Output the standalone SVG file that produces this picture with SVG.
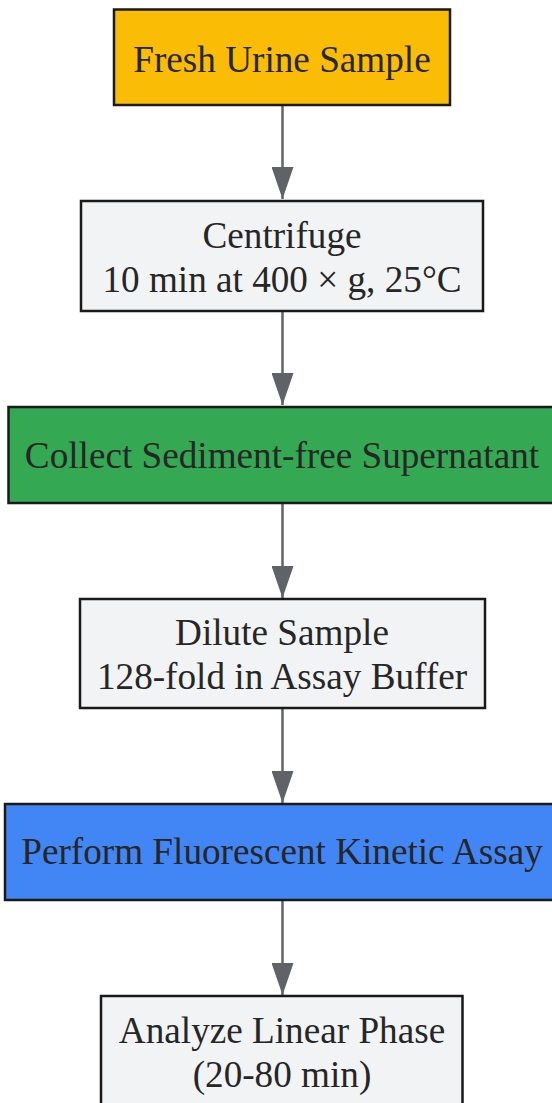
<svg xmlns="http://www.w3.org/2000/svg" width="552" height="1103" viewBox="0 0 552 1103">
<style>
.box{stroke:#1a1a1a;stroke-width:2.5}
.t{font-family:"Liberation Serif","Times New Roman",serif;font-size:37.2px;fill:#262626;text-anchor:middle}
.edge{stroke:#5f6368;stroke-width:2.5;fill:none}
</style>
<defs>
<marker id="ah" viewBox="0 0 32 22" refX="32" refY="11" markerUnits="userSpaceOnUse" markerWidth="32" markerHeight="22" orient="auto">
<path d="M0,0 L32,11 L0,22 Z" fill="#5f6368"/>
</marker>
</defs>
<rect width="552" height="1103" fill="#ffffff"/>
<g id="connectors">
<path class="edge" d="M282.5,105 V199" marker-end="url(#ah)"/>
<path class="edge" d="M282.5,311 V405" marker-end="url(#ah)"/>
<path class="edge" d="M282.5,503 V598" marker-end="url(#ah)"/>
<path class="edge" d="M282.5,708 V803" marker-end="url(#ah)"/>
<path class="edge" d="M282.5,900 V995" marker-end="url(#ah)"/>
</g>
<g id="n1">
<rect class="box" x="114" y="9.5" width="336" height="95.5" fill="#fbbc05"/>
<text class="t" x="282" y="72">Fresh Urine Sample</text>
</g>
<g id="n2">
<rect class="box" x="81" y="201" width="402" height="110" fill="#f1f3f4"/>
<text class="t" x="282" y="248">Centrifuge</text>
<text class="t" x="282" y="292">10 min at 400 × g, 25°C</text>
</g>
<g id="n3">
<rect class="box" x="8.5" y="407" width="552" height="96" fill="#34a853"/>
<text class="t" x="282" y="468">Collect Sediment-free Supernatant</text>
</g>
<g id="n4">
<rect class="box" x="80" y="599" width="405" height="109" fill="#f1f3f4"/>
<text class="t" x="282" y="645">Dilute Sample</text>
<text class="t" x="282" y="689">128-fold in Assay Buffer</text>
</g>
<g id="n5">
<rect class="box" x="5" y="804" width="552" height="96" fill="#4285f4"/>
<text class="t" x="282" y="864">Perform Fluorescent Kinetic Assay</text>
</g>
<g id="n6">
<rect class="box" x="101" y="996" width="361.5" height="120" fill="#f1f3f4"/>
<text class="t" x="282" y="1043">Analyze Linear Phase</text>
<text class="t" x="282" y="1087">(20-80 min)</text>
</g>
</svg>
